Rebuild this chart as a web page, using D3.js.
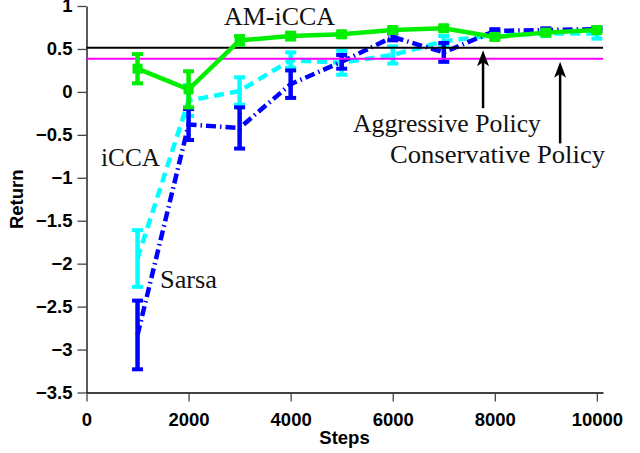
<!DOCTYPE html>
<meta charset="utf-8">
<div id="area"></div>
<script src="https://d3js.org/d3.v7.min.js"></script>
<style>
  body { margin: 0; background: #fff; }
  .tick text { font-family: "Liberation Sans", Arial, sans-serif; font-weight: bold; font-size: 18.5px; fill: #000; }
  .lab { font-family: "Liberation Sans", Arial, sans-serif; font-weight: bold; font-size: 18.5px; }
  .ann { font-family: "Liberation Serif", "Times New Roman", serif; font-size: 25px; fill: #111; }
</style>
<script>
// x positions (steps)
var steps = [1000, 2000, 3000, 4000, 5000, 6000, 7000, 8000, 9000, 10000];

// mean return + error half-width
var amiccaMean = [0.27, 0.03, 0.60, 0.65, 0.67, 0.72, 0.74, 0.64, 0.69, 0.72];
var amiccaErr  = [0.17, 0.21, 0.05, 0.04, 0.03, 0.03, 0.03, 0.03, 0.03, 0.03];
var iccaMean   = [-1.94, -0.10, 0.01, 0.37, 0.34, 0.43, 0.59, 0.66, 0.68, 0.68];
var iccaErr    = [0.33, 0.18, 0.16, 0.09, 0.14, 0.10, 0.06, 0.03, 0.03, 0.06];
var sarsaMean  = [-2.83, -0.38, -0.42, 0.09, 0.35, 0.64, 0.46, 0.71, 0.72, 0.73];
var sarsaErr   = [0.40, 0.18, 0.24, 0.16, 0.08, 0.04, 0.11, 0.02, 0.02, 0.02];

// baselines
var aggressiveReturn = 0.515;
var conservativeReturn = 0.385;

var xTicks = [0, 2000, 4000, 6000, 8000, 10000];
var yTicks = [-3.5, -3, -2.5, -2, -1.5, -1, -0.5, 0, 0.5, 1];

var W = 640, H = 453;
var plot = {left: 86.5, right: 603, top: 6, bottom: 392.5};

var svg = d3.select("#area").append("svg")
  .attr("width", W).attr("height", H);

var x = d3.scaleLinear().domain([0, 10120]).range([plot.left, plot.right]);
var y = d3.scaleLinear().domain([-3.5, 1]).range([plot.bottom, plot.top]);

// axes
svg.append("g")
  .attr("transform", "translate(0," + plot.bottom + ")")
  .call(d3.axisBottom(x).tickValues(xTicks).tickFormat(d3.format("d"))
        .tickSize(9).tickSizeOuter(0).tickPadding(11))
  .call(function(g) { g.select(".domain").attr("stroke", "#000").attr("stroke-width", 1.3); })
  .call(function(g) { g.selectAll(".tick line").attr("stroke", "#444").attr("stroke-width", 1.3); });

svg.append("g")
  .attr("transform", "translate(" + plot.left + ",0)")
  .call(d3.axisLeft(y).tickValues(yTicks).tickFormat(d3.format("~g"))
        .tickSize(9).tickSizeOuter(0).tickPadding(5))
  .call(function(g) { g.select(".domain").attr("stroke", "#000").attr("stroke-width", 1.3); })
  .call(function(g) { g.selectAll(".tick line").attr("stroke", "#444").attr("stroke-width", 1.3); });

svg.append("text").attr("class", "lab")
  .attr("x", 344.5).attr("y", 444)
  .attr("text-anchor", "middle").text("Steps");

svg.append("text").attr("class", "lab")
  .attr("transform", "translate(23," + ((plot.top + plot.bottom) / 2) + ")rotate(-90)")
  .attr("text-anchor", "middle").text("Return");

function series(mean, err, color, dash, width) {
  var data = steps.map(function(s, i) { return {s: s, m: mean[i], e: err[i]}; });
  var g = svg.append("g");
  g.append("path")
    .datum(data)
    .attr("fill", "none")
    .attr("stroke", color)
    .attr("stroke-width", width)
    .attr("stroke-dasharray", dash)
    .attr("d", d3.line().x(function(d) { return x(d.s); }).y(function(d) { return y(d.m); }));
  var bars = g.selectAll(".eb").data(data).enter().append("g");
  bars.append("line")
    .attr("x1", function(d) { return x(d.s); }).attr("x2", function(d) { return x(d.s); })
    .attr("y1", function(d) { return y(d.m - d.e); }).attr("y2", function(d) { return y(d.m + d.e); })
    .attr("stroke", color).attr("stroke-width", 4.5);
  [-1, 1].forEach(function(sgn) {
    bars.append("line")
      .attr("x1", function(d) { return x(d.s) - 5.5; }).attr("x2", function(d) { return x(d.s) + 5.5; })
      .attr("y1", function(d) { return y(d.m + sgn * d.e); }).attr("y2", function(d) { return y(d.m + sgn * d.e); })
      .attr("stroke", color).attr("stroke-width", 4);
  });
  return {g: g, data: data};
}

series(iccaMean, iccaErr, "#00ffff", "10,6", 4.5);
series(sarsaMean, sarsaErr, "#0000ff", "10,4,1.5,4", 4.5);

// reference policies
svg.append("line")
  .attr("x1", x(0)).attr("x2", plot.right)
  .attr("y1", y(aggressiveReturn)).attr("y2", y(aggressiveReturn))
  .attr("stroke", "#000").attr("stroke-width", 2);
svg.append("line")
  .attr("x1", x(0)).attr("x2", plot.right)
  .attr("y1", y(conservativeReturn)).attr("y2", y(conservativeReturn))
  .attr("stroke", "#ff00ff").attr("stroke-width", 2);

var am = series(amiccaMean, amiccaErr, "#00ee00", null, 4.5);
am.g.selectAll(".mk").data(am.data).enter().append("rect")
  .attr("x", function(d) { return x(d.s) - 5; })
  .attr("y", function(d) { return y(d.m) - 5; })
  .attr("width", 10).attr("height", 10)
  .attr("fill", "#00ee00");

// arrows pointing at the baselines
var arrowX = [7770, 9280];
var arrowTip = [0.485, 0.35];
var arrowTail = [-0.19, -0.6];
arrowX.forEach(function(ax, i) {
  var px = x(ax), ty = y(arrowTip[i]), by = y(arrowTail[i]);
  svg.append("line").attr("x1", px).attr("x2", px)
    .attr("y1", ty + 10).attr("y2", by)
    .attr("stroke", "#000").attr("stroke-width", 2.5);
  svg.append("path")
    .attr("d", "M" + px + "," + ty + "L" + (px - 6) + "," + (ty + 16) + "L" + px + "," + (ty + 12) + "L" + (px + 6) + "," + (ty + 16) + "Z")
    .attr("fill", "#000");
});

// annotations: text, x, baseline y, width
var labels = [
  ["AM-iCCA", 224, 25, 111],
  ["Aggressive Policy", 353, 132, 188],
  ["Conservative Policy", 390, 163, 215],
  ["iCCA", 101, 166, 59],
  ["Sarsa", 160, 288, 57]
];
labels.forEach(function(l) {
  svg.append("text").attr("class", "ann")
    .attr("x", l[1]).attr("y", l[2])
    .attr("textLength", l[3]).attr("lengthAdjust", "spacingAndGlyphs")
    .text(l[0]);
});
</script>
